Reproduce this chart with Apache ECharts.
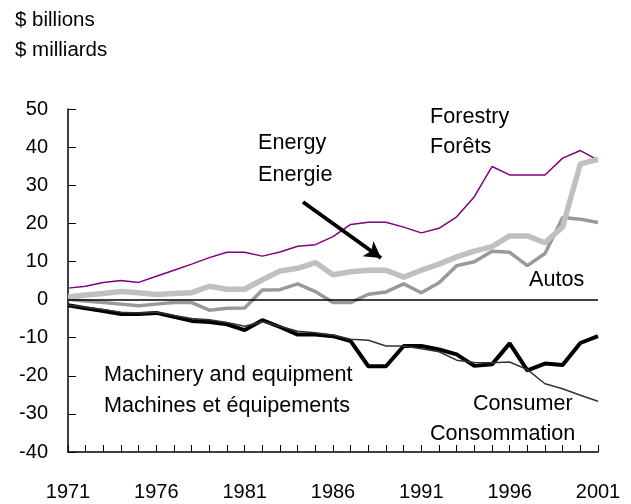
<!DOCTYPE html>
<html>
<head>
<meta charset="utf-8">
<script src="https://cdn.jsdelivr.net/npm/echarts@6/dist/echarts.min.js"></script>
<style>
  body { margin: 0; background: #fff; }
  #main { width: 631px; height: 504px; }
</style>
</head>
<body>
<div id="main"></div>
<script>
// years 1971..2001
var years = [];
for (var y = 1971; y <= 2001; y++) years.push(String(y));

var forestry = [3.0, 3.5, 4.5, 5.0, 4.5, 6.1, 7.7, 9.3, 11.0, 12.4, 12.4, 11.4, 12.5, 14.0, 14.4, 16.5,
  19.7, 20.3, 20.3, 19.0, 17.5, 18.7, 21.7, 27.0, 34.9, 32.7, 32.7, 32.7, 37.1, 39.1, 36.6];
var energy = [0.7, 1.2, 1.6, 2.1, 1.8, 1.3, 1.6, 1.8, 3.5, 2.7, 2.7, 5.2, 7.5, 8.2, 9.7, 6.5,
  7.3, 7.7, 7.7, 5.9, 7.7, 9.3, 11.2, 12.7, 13.9, 16.7, 16.7, 14.9, 19.1, 35.6, 36.8];
var autos = [0.1, -0.4, -0.8, -1.2, -1.6, -1.2, -0.8, -0.8, -2.8, -2.3, -2.2, 2.5, 2.6, 4.1, 2.1, -0.8,
  -0.8, 1.4, 2.0, 4.1, 1.8, 4.4, 8.9, 9.9, 12.7, 12.4, 8.9, 12.1, 21.5, 21.1, 20.2];
var machinery = [-1.5, -2.3, -3.0, -3.8, -3.8, -3.5, -4.5, -5.6, -5.9, -6.5, -8.0, -5.4, -7.2, -9.2, -9.2, -9.6,
  -10.9, -17.5, -17.5, -12.2, -12.2, -13.1, -14.4, -17.4, -17.0, -11.5, -18.6, -16.8, -17.2, -11.4, -9.6];
var consumer = [-1.4, -2.0, -2.6, -3.3, -3.5, -3.3, -4.2, -5.0, -5.3, -6.0, -7.0, -5.8, -7.0, -8.3, -8.7, -9.3,
  -10.4, -10.7, -12.2, -12.2, -12.9, -13.7, -15.9, -16.5, -16.6, -16.4, -18.4, -22.1, -23.4, -25.1, -26.7];

var yMin = -40, yMax = 50, yStep = 10;

var FONT = '"Liberation Sans", Arial, sans-serif';

// x = left edge, y = vertical centre of the text
function txt(x, y, s, size) {
  return {
    type: 'text', left: x, top: y - size / 2,
    style: { text: s, font: size + 'px ' + FONT, fill: '#000' }
  };
}

var chart = echarts.init(document.getElementById('main'));
var option = {
  animation: false,
  backgroundColor: '#fff',
  grid: { left: 68, right: 33, top: 109, bottom: 52 },
  xAxis: {
    type: 'category',
    data: years,
    boundaryGap: false,
    axisLine: { onZero: false, lineStyle: { color: '#000', width: 1.5 } },
    axisTick: { inside: true, interval: 0, length: 7, lineStyle: { color: '#000', width: 1 } },
    axisLabel: { interval: 4, color: '#000', fontSize: 20, fontFamily: FONT, margin: 30 },
    splitLine: { show: false }
  },
  yAxis: {
    type: 'value',
    min: yMin, max: yMax, interval: yStep,
    axisLine: { show: true, lineStyle: { color: '#000', width: 1.5 } },
    axisTick: { show: true, inside: true, length: 8, lineStyle: { color: '#000', width: 1 } },
    axisLabel: { color: '#000', fontSize: 20, fontFamily: FONT, margin: 20 },
    splitLine: { show: false }
  },
  series: [
    {
      name: 'Forestry', type: 'line', data: forestry, symbol: 'none',
      lineStyle: { color: '#800080', width: 1.5 },
      markLine: {
        silent: true, symbol: 'none', label: { show: false },
        lineStyle: { color: '#000', width: 1.5, type: 'solid' },
        data: [{ yAxis: 0 }]
      }
    },
    {
      name: 'Autos', type: 'line', data: autos, symbol: 'none',
      lineStyle: { color: '#999999', width: 3.5 }
    },
    {
      name: 'Energy', type: 'line', data: energy, symbol: 'none',
      lineStyle: { color: '#c0c0c0', width: 5.5 }
    },
    {
      name: 'Machinery', type: 'line', data: machinery, symbol: 'none',
      lineStyle: { color: '#000', width: 4 }
    },
    {
      name: 'Consumer', type: 'line', data: consumer, symbol: 'none',
      lineStyle: { color: '#333', width: 1.5 },
      markLine: {
        silent: true, symbol: ['none', 'arrow'], symbolSize: [14, 16],
        label: { show: false },
        lineStyle: { color: '#000', width: 4, type: 'solid' },
        data: [[{ x: 303, y: 202 }, { x: 381, y: 258 }]]
      }
    }
  ],
  graphic: [
    txt(15, 20, '$ billions', 20.5),
    txt(15, 50, '$ milliards', 20.5),
    txt(258, 143, 'Energy', 21.6),
    txt(258, 175, 'Energie', 21.6),
    txt(430, 117, 'Forestry', 21.6),
    txt(430, 147, 'Forêts', 21.6),
    txt(529, 280, 'Autos', 21.6),
    txt(104, 375, 'Machinery and equipment', 21.6),
    txt(104, 406, 'Machines et équipements', 21.6),
    txt(473, 404, 'Consumer', 21.6),
    txt(430, 434, 'Consommation', 21.6)
  ]
};
chart.setOption(option);
</script>
</body>
</html>
